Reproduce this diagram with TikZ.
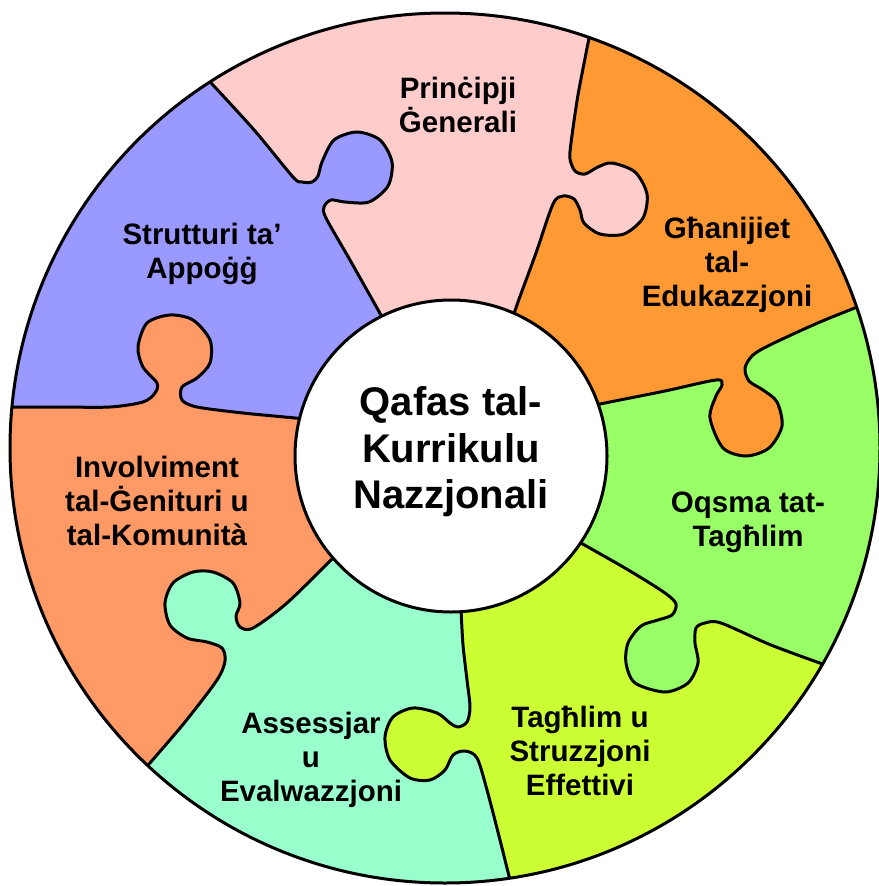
\documentclass[tikz,border=0pt]{standalone}
\usepackage{fontspec}
\setmainfont{Liberation Sans}
\usetikzlibrary{calc}
\definecolor{cPink}{HTML}{FFCCCC}
\definecolor{cOrange}{HTML}{FF9933}
\definecolor{cGreen}{HTML}{99FF66}
\definecolor{cYellow}{HTML}{CCFF33}
\definecolor{cAqua}{HTML}{99FFCC}
\definecolor{cSalmon}{HTML}{FF9966}
\definecolor{cBlue}{HTML}{9999FF}
% boundaries, each from the inner circle to the outer circle
\newcommand\bndA{plot[smooth,tension=0.5] coordinates {(387,326) (377,308) (350,260) (326,218) (324,207) (331,200) (345,202) (369,202) (388,186) (392,162) (380,140) (357,132) (334,140) (322,162) (318,176) (312,182) (302,182) (293,177) (255,131) (213,85) (201,72)}}
\newcommand\bndB{plot[smooth,tension=0.5] coordinates {(511,323) (518,302) (536,253) (553,204) (563,196) (574,199) (580,210) (584,223) (600,234) (624,234) (643,218) (647,194) (635,172) (612,163) (598,167) (585,174) (575,171) (570,159) (571,143) (578,95) (590,33) (592,21)}}
\newcommand\bndC{plot[smooth,tension=0.5] coordinates {(587,407) (605,403) (665,391) (716,380) (722,385) (716,396) (710,418) (723,448) (746,456) (769,448) (782,426) (777,402) (763,390) (749,381) (745,368) (753,355) (772,344) (820,322) (870,302) (877,299)}}
\newcommand\bndD{plot[smooth,tension=0.5] coordinates {(571,537) (581,543) (630,571) (665,593) (676,604) (672,615) (658,620) (641,626) (628,643) (626,663) (635,683) (665,692) (688,683) (698,663) (695,643) (696,628) (705,623) (721,623) (771,645) (828,666) (839,670)}}
\newcommand\bndE{plot[smooth,tension=0.5] coordinates {(460,598) (461,610) (463,645) (467,680) (470,707) (467,722) (458,727) (450,723) (437,713) (413,708) (393,717) (385,737) (390,760) (410,778) (430,780) (445,770) (453,755) (465,751) (477,758) (487,790) (500,840) (510,880) (514,894)}}
\newcommand\bndF{plot[smooth,tension=0.5] coordinates {(342,550) (333,558) (287,603) (253,628) (240,627) (236,616) (240,603) (233,583) (213,572) (193,572) (173,583) (165,603) (170,625) (187,638) (207,642) (222,648) (225,661) (217,680) (185,722) (150,763) (138,777)}}
\newcommand\bndG{plot[smooth,tension=0.5] coordinates {(311,420) (295,418) (243,413) (197,407) (182,400) (182,387) (197,378) (210,363) (210,340) (193,320) (170,315) (147,323) (138,347) (143,367) (157,383) (155,393) (143,402) (110,407) (60,407) (18,407) (-2,407)}}
% clip to the side of a boundary with larger / smaller angle
\newcommand\afterbnd[2]{\clip #1 -- ($(O)+(#2:1000)$) -- ($(O)+(#2+40:1000)$) -- ($(O)+(#2+80:1000)$) -- ($(O)+(#2+110:1000)$) -- (O) -- cycle;}
\newcommand\beforebnd[2]{\clip #1 -- ($(O)+(#2:1000)$) -- ($(O)+(#2-40:1000)$) -- ($(O)+(#2-80:1000)$) -- ($(O)+(#2-110:1000)$) -- (O) -- cycle;}
\newcommand\piece[5]{\begin{scope}\afterbnd{#1}{#2}\beforebnd{#3}{#4}\fill[#5] (O) circle[radius=435pt];\end{scope}}
\begin{document}
\begin{tikzpicture}[x=1pt,y=1pt,yscale=-1,line width=3pt,line join=round,
  lbl/.style={font=\fontsize{29.5}{34}\selectfont\bfseries,align=center,inner sep=0pt},
  ctr/.style={font=\fontsize{40}{46.5}\selectfont\bfseries,align=center,inner sep=0pt}]
\fill[white] (0,0) rectangle (878,886);
\useasboundingbox (0,0) rectangle (878,886);
\coordinate (O) at (445,448);
\coordinate (I) at (451,456);
% pieces
\piece{\bndA}{-123}{\bndB}{-71}{cPink}
\piece{\bndB}{-71}{\bndC}{-19}{cOrange}
\piece{\bndC}{-19}{\bndD}{30}{cGreen}
\piece{\bndD}{30}{\bndE}{81}{cYellow}
\piece{\bndE}{81}{\bndF}{133}{cAqua}
\piece{\bndF}{133}{\bndG}{185}{cSalmon}
\piece{\bndG}{185}{\bndA}{237}{cBlue}
% outlines
\begin{scope}
\clip (O) circle[radius=435pt];
\draw \bndA; \draw \bndB; \draw \bndC; \draw \bndD;
\draw \bndE; \draw \bndF; \draw \bndG;
\end{scope}
\draw (O) circle[radius=435pt];
\filldraw[fill=white] (I) circle[radius=156pt];
% labels
\node[ctr] (center) at (451,452) {Qafas tal-\\Kurrikulu\\Nazzjonali};
\node[lbl] (prin) at (458,105) {Prinċipji\\Ġenerali};
\node[lbl] (ghan) at (727,265) {Għanijiet\\tal-\\Edukazzjoni};
\node[lbl] (oqsma) at (748,522) {Oqsma tat-\\Tagħlim};
\node[lbl] (taghlim) at (580,751) {Tagħlim u\\Struzzjoni\\Effettivi};
\node[lbl] (assess) at (311,760) {Assessjar\\u\\Evalwazzjoni};
\node[lbl] (invol) at (157,501) {Involviment\\tal-Ġenituri u\\tal-Komunità};
\node[lbl] (strut) at (202,254) {Strutturi ta’\\Appoġġ};
\end{tikzpicture}
\end{document}
